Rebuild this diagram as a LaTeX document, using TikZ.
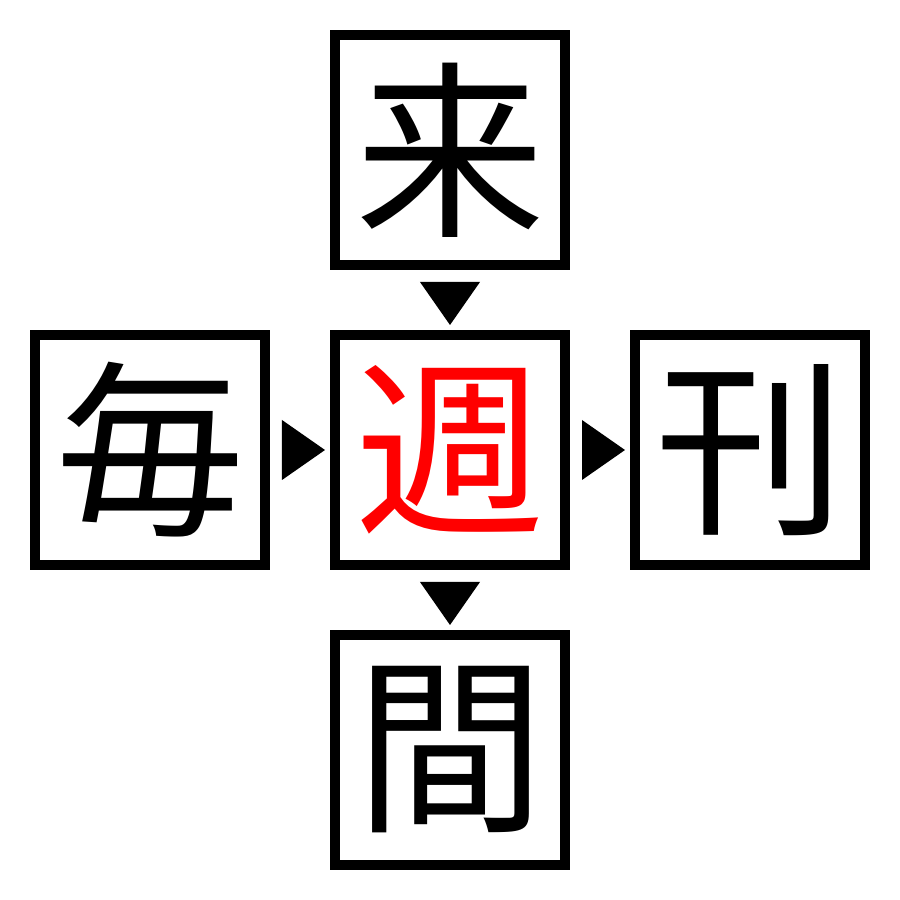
\documentclass[tikz,border=0pt]{standalone}
\usepackage{fontspec}
\newfontfamily\cjk{Noto Sans CJK JP}
\usetikzlibrary{calc}
\usetikzlibrary{positioning}
\tikzset{
 kanji/.style={draw=black, line width=1mm, minimum size=23mm, inner sep=0,
   font=\cjk\fontsize{54}{54}\selectfont},
}
\begin{document}
\begin{tikzpicture} [x=0.1mm, y=0.1mm, node distance=6mm]
\useasboundingbox (-450,-450) rectangle (450,450);
\node[kanji, text=red] (shuu) at (0,0) {週};
\node[kanji, above=of shuu] (rai) {来};
\node[kanji, left=of shuu] (mai) {毎};
\node[kanji, right=of shuu] (kan) {刊};
\node[kanji, below=of shuu] (aida) {間};
% triangles between the boxes
\fill[black] ($(rai.south)+(-30,-12)$) --++(60,0) -- ($(rai.south)+(0,-55)$) -- cycle;
\fill[black] ($(shuu.south)+(-30,-12)$) --++(60,0) -- ($(shuu.south)+(0,-55)$) -- cycle;
\fill[black] ($(mai.east)+(12,30)$) --++(0,-60) -- ($(mai.east)+(55,0)$) -- cycle;
\fill[black] ($(shuu.east)+(12,30)$) --++(0,-60) -- ($(shuu.east)+(55,0)$) -- cycle;
\end{tikzpicture}
\end{document}
